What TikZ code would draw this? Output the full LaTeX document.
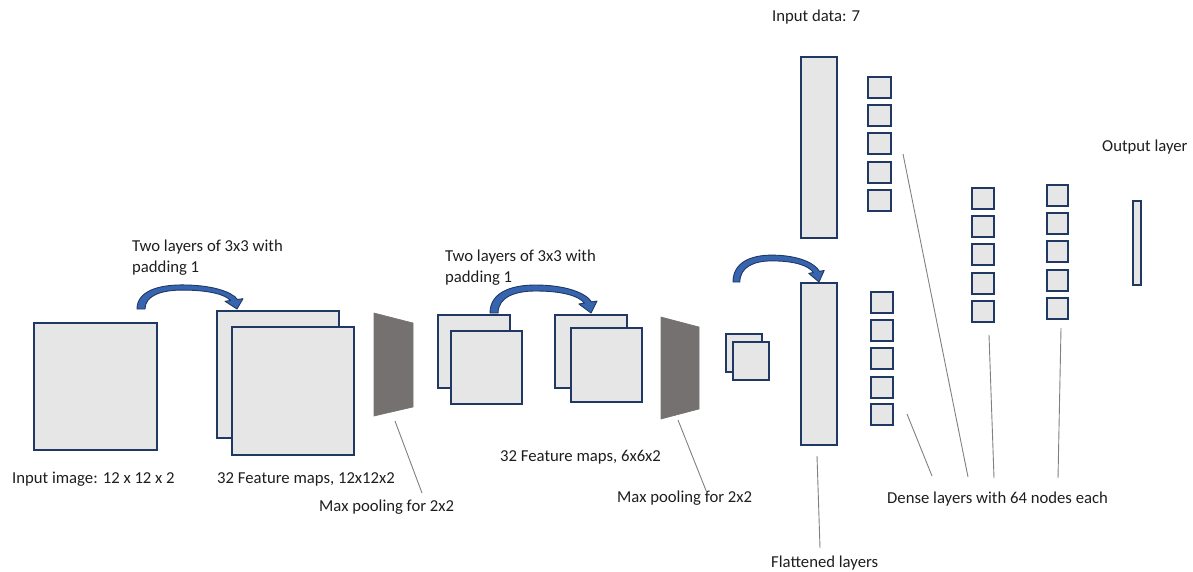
\documentclass[tikz,border=0pt]{standalone}
\usepackage{fontspec}
\setmainfont{Carlito}
\definecolor{boxfill}{RGB}{231,230,230}
\definecolor{boxline}{RGB}{31,56,100}
\definecolor{poolfill}{RGB}{118,113,113}
\definecolor{arrowfill}{RGB}{55,100,175}
\definecolor{pointer}{RGB}{128,128,128}
\definecolor{txt}{RGB}{30,30,30}
\tikzset{
  fmap/.style={fill=boxfill,draw=boxline,line width=1.7pt},
  pool/.style={fill=poolfill,draw=poolfill,line width=0.6pt},
  bentarrow/.style={fill=arrowfill,draw=boxline,line width=0.9pt,line join=round},
  ptr/.style={draw=pointer,line width=0.9pt},
  lbl/.style={text=txt,font=\fontsize{16.7}{21}\selectfont,inner sep=0pt,anchor=west,align=left},
}
\newcommand\bentarrowat[4]{%
  \begin{scope}[shift={(#1,#2)},xscale=#3,yscale=#4]
    \path[bentarrow] (0,0) .. controls (0,-20) and (20,-28) .. (45,-28)
      .. controls (75,-28) and (95,-20) .. (100.5,-11.1) -- (106,-12) -- (100,0)
      -- (88,-9) -- (93.5,-9.9) .. controls (88,-17) and (72,-22) .. (45,-22)
      .. controls (25,-22) and (8,-16) .. (8,0) -- cycle;
  \end{scope}}
\begin{document}
\begin{tikzpicture}[x=1pt,y=-1pt]
\useasboundingbox (0,0) rectangle (1193,572);

% input image
\draw[fmap] (34,323) rectangle (157,450);
% feature maps 1
\draw[fmap] (217,311) rectangle (339,438);
\draw[fmap] (232,327) rectangle (354,455);
% max pool 1
\path[pool] (374,313) -- (413,323) -- (413,407) -- (374,416) -- cycle;
% second conv block
\draw[fmap] (438,315) rectangle (510,388);
\draw[fmap] (451,331) rectangle (522,404);
\draw[fmap] (555,315) rectangle (627,388);
\draw[fmap] (571,328) rectangle (642,402);
% max pool 2
\path[pool] (661,317) -- (699,327) -- (699,409) -- (661,419) -- cycle;
% small maps
\draw[fmap] (726,334) rectangle (762,372);
\draw[fmap] (733,342) rectangle (769,380);
% flattened / input data columns
\draw[fmap] (801,57) rectangle (837,238);
\draw[fmap] (801,283) rectangle (837,445);
% dense columns
\foreach \t in {77,105,133,162,190}{\draw[fmap] (868,\t) rectangle (891,\t+21);}
\foreach \t in {292,320,348,377,404}{\draw[fmap] (871,\t) rectangle (893,\t+21);}
\foreach \t in {188,216,244,273,301}{\draw[fmap] (972,\t) rectangle (994,\t+21);}
\foreach \t in {185,213,241,270,298}{\draw[fmap] (1047,\t) rectangle (1068,\t+21);}
% output layer
\draw[fmap,line width=1.4pt] (1133,201) rectangle (1141,285);

% curved arrows
\bentarrowat{137}{309}{1.0}{0.86}
\bentarrowat{490}{313}{1.01}{1.0}
\bentarrowat{733}{282}{0.86}{0.96}

% labels
\node[lbl] (tin)  at (12,479) {Input image: 12 x 12 x 2};
\node[lbl] (tfm1) at (217,479) {32 Feature maps, 12x12x2};
\node[lbl] (tmp1) at (319,507) {Max pooling for 2x2};
\node[lbl] (tc1)  at (132,257.5) {Two layers of 3x3 with\\padding 1};
\node[lbl] (tc2)  at (445,268) {Two layers of 3x3 with\\padding 1};
\node[lbl] (tfm2) at (500,457) {32 Feature maps, 6x6x2};
\node[lbl] (tmp2) at (617,498) {Max pooling for 2x2};
\node[lbl] (tid)  at (772,17) {Input data: 7};
\node[lbl] (tout) at (1102,147) {Output layer};
\node[lbl] (tden) at (887,499) {Dense layers with 64 nodes each};
\node[lbl] (tfl)  at (771,563) {Flattened layers};

% pointer lines
\coordinate (p1a) at (395,421); \coordinate (p1b) at (422,493);
\coordinate (p2a) at (678,420); \coordinate (p2b) at (707,493);
\coordinate (pfa) at (817,456); \coordinate (pfb) at (820,548);
\coordinate (pda) at (907,414); \coordinate (pdb) at (932,476);
\coordinate (paa) at (903,154); \coordinate (pab) at (968,477);
\coordinate (pba) at (989,335); \coordinate (pbb) at (994,478);
\coordinate (pca) at (1061,328); \coordinate (pcb) at (1058,478);
\draw[ptr] (p1a) -- (p1b);
\draw[ptr] (p2a) -- (p2b);
\draw[ptr] (pfa) -- (pfb);
\draw[ptr] (pda) -- (pdb);
\draw[ptr] (paa) -- (pab);
\draw[ptr] (pba) -- (pbb);
\draw[ptr] (pca) -- (pcb);
\end{tikzpicture}
\end{document}
